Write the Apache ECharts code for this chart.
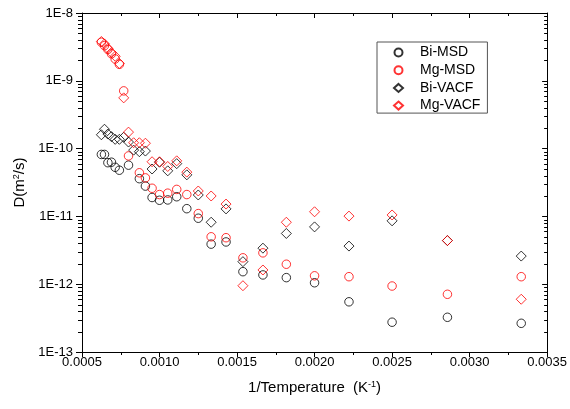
<!DOCTYPE html>
<html><head><meta charset="utf-8">
<script src="https://cdn.jsdelivr.net/npm/echarts@6/dist/echarts.min.js"></script>
<style>html,body{margin:0;padding:0;background:#fff}#c{width:570px;height:409px}</style>
</head><body><div id="c"></div>
<script>
// 1/T (K^-1) for T = 1600 ... 300 K in 50 K steps
const invT = [0.000625, 0.000645, 0.000667, 0.00069, 0.000714, 0.000741, 0.000769, 0.0008, 0.000833, 0.00087,
  0.000909, 0.000952, 0.001, 0.001053, 0.001111, 0.001176, 0.00125, 0.001333, 0.001429, 0.001538,
  0.001667, 0.001818, 0.002, 0.002222, 0.0025, 0.002857, 0.003333];
const biMSD = [8.2e-11, 8.2e-11, 6.2e-11, 6.3e-11, 5.3e-11, 4.8e-11, null, 5.7e-11, null, 3.6e-11,
  2.8e-11, 1.9e-11, 1.73e-11, 1.75e-11, 1.95e-11, 1.3e-11, 9.4e-12, 3.9e-12, 4.2e-12, 1.53e-12,
  1.37e-12, 1.25e-12, 1.05e-12, 5.5e-13, 2.75e-13, 3.25e-13, 2.65e-13];
const mgMSD = [3.7e-9, 3.3e-9, 2.9e-9, 2.5e-9, 2.1e-9, 1.75e-9, 7.1e-10, 7.8e-11, null, 4.4e-11,
  3.7e-11, 2.6e-11, 2.1e-11, 2.2e-11, 2.5e-11, 2.1e-11, 1.1e-11, 5.0e-12, 4.85e-12, 2.45e-12,
  2.9e-12, 1.97e-12, 1.33e-12, 1.29e-12, 9.4e-13, 7.1e-13, 1.29e-12];
const biVACF = [1.6e-10, 1.93e-10, 1.64e-10, 1.5e-10, 1.37e-10, 1.37e-10, 1.47e-10, 1.25e-10, 9.5e-11, 9.0e-11,
  9.2e-11, 5.0e-11, 6.3e-11, 4.7e-11, 6.0e-11, 4.1e-11, 2.07e-11, 8.2e-12, 1.29e-11, 2.15e-12,
  3.4e-12, 5.6e-12, 7.0e-12, 3.65e-12, 8.6e-12, 4.4e-12, 2.6e-12];
const mgVACF = [3.8e-9, 3.5e-9, 3.0e-9, 2.6e-9, 2.3e-9, 1.8e-9, 5.6e-10, 1.75e-10, 1.22e-10, 1.22e-10,
  1.2e-10, 6.4e-11, 6.4e-11, 5.45e-11, 6.6e-11, 4.5e-11, 2.37e-11, 2.0e-11, 1.52e-11, 9.5e-13,
  1.62e-12, 8.2e-12, 1.17e-11, 1.01e-11, 1.05e-11, 4.4e-12, 6.0e-13];
const seriesNames = ['Bi-MSD', 'Mg-MSD', 'Bi-VACF', 'Mg-VACF'];
const xRange = [0.0005, 0.0035];
const xStep = 0.0005;
const yRange = [1e-13, 1e-8];
const yDecades = [1e-13, 1e-12, 1e-11, 1e-10, 1e-9];
const yMinorMultipliers = [2, 3, 4, 5, 6, 7, 8, 9];

const FONT = 'Liberation Sans, Arial, sans-serif';
const yMinorTicks = [];
yDecades.forEach(d => yMinorMultipliers.forEach(m => yMinorTicks.push([xRange[0], m * d])));

function pairs(arr) {
  const out = [];
  arr.forEach((v, i) => { if (v != null) out.push([invT[i], v]); });
  return out;
}
function scatter(name, arr, symbol, color, size) {
  return {
    name, type: 'scatter', data: pairs(arr), symbol, symbolSize: size,
    itemStyle: { color: 'rgba(0,0,0,0)', borderColor: color, borderWidth: 1 },
    emphasis: { disabled: true }, z: 3
  };
}
function minorTickItem(params, api) {
  const p = api.coord([api.value(0), api.value(1)]);
  const cs = params.coordSys;
  const y = Math.round(p[1]) + 0.5;
  return { type: 'group', children: [
    { type: 'line', shape: { x1: cs.x - 4, y1: y, x2: cs.x, y2: y }, style: { stroke: '#000', lineWidth: 1 } },
    { type: 'line', shape: { x1: cs.x + cs.width - 3, y1: y, x2: cs.x + cs.width, y2: y }, style: { stroke: '#000', lineWidth: 1 } }
  ] };
}

const chart = echarts.init(document.getElementById('c'), null, { renderer: 'canvas' });
const axisLine = { show: true, onZero: false, lineStyle: { color: '#000', width: 1 } };
chart.setOption({
  animation: false,
  backgroundColor: '#fff',
  grid: { left: 82, right: 21, top: 13, bottom: 57, containLabel: false },
  legend: {
    data: seriesNames, orient: 'vertical', left: 377, top: 42,
    itemWidth: 9, itemHeight: 8, itemGap: 2.7, padding: [3, 7, 0, 16],
    borderColor: '#555', borderWidth: 1,
    textStyle: { fontSize: 14, fontFamily: FONT, color: '#000', lineHeight: 15, padding: [0, 0, 0, 12] }
  },
  xAxis: [{
    type: 'value', position: 'bottom', min: xRange[0], max: xRange[1], interval: xStep,
    axisLine, axisTick: { show: true, inside: false, length: 5, lineStyle: { color: '#000' } },
    minorTick: { show: true, splitNumber: 2, length: 3, lineStyle: { color: '#000' } },
    splitLine: { show: false },
    axisLabel: { formatter: v => v.toFixed(4), fontSize: 13, fontFamily: FONT, color: '#000', margin: 4 },
    name: '1/Temperature  (K{sup|-1})', nameLocation: 'middle', nameGap: 28,
    nameTextStyle: { fontSize: 15, fontFamily: FONT, color: '#000',
      rich: { sup: { fontSize: 9, fontFamily: FONT, color: '#000', verticalAlign: 'top', padding: [0, 0, 6, 0] } } }
  }, {
    type: 'value', position: 'top', min: xRange[0], max: xRange[1], interval: xStep,
    axisLine, axisTick: { show: true, inside: true, length: 5, lineStyle: { color: '#000' } },
    minorTick: { show: true, splitNumber: 2, length: 3, lineStyle: { color: '#000' } },
    splitLine: { show: false }, axisLabel: { show: false }
  }],
  yAxis: [{
    type: 'log', logBase: 10, position: 'left', min: yRange[0], max: yRange[1], splitNumber: 5,
    axisLine, axisTick: { show: true, inside: false, length: 6, lineStyle: { color: '#000' } },
    splitLine: { show: false },
    axisLabel: { formatter: v => '1E' + Math.round(Math.log10(v)), fontSize: 13, fontFamily: FONT, color: '#000', margin: 9 },
    name: 'D(m{sup|2}/s)', nameLocation: 'middle', nameGap: 55,
    nameTextStyle: { fontSize: 15, fontFamily: FONT, color: '#000',
      rich: { sup: { fontSize: 9, fontFamily: FONT, color: '#000', verticalAlign: 'top', padding: [0, 0, 6, 0] } } }
  }, {
    type: 'log', logBase: 10, position: 'right', min: yRange[0], max: yRange[1], splitNumber: 5,
    axisLine, axisTick: { show: true, inside: true, length: 5, lineStyle: { color: '#000' } },
    splitLine: { show: false }, axisLabel: { show: false }
  }],
  series: [
    scatter('Bi-MSD', biMSD, 'circle', '#000', 8.5),
    scatter('Mg-MSD', mgMSD, 'circle', '#ff0000', 8.5),
    scatter('Bi-VACF', biVACF, 'diamond', '#000', 10),
    scatter('Mg-VACF', mgVACF, 'diamond', '#ff0000', 10),
    {
      name: 'minorTicks', type: 'custom', data: yMinorTicks, renderItem: minorTickItem,
      silent: true, clip: false, z: 1, xAxisIndex: 0, yAxisIndex: 0
    }
  ]
});
</script>
</body></html>
